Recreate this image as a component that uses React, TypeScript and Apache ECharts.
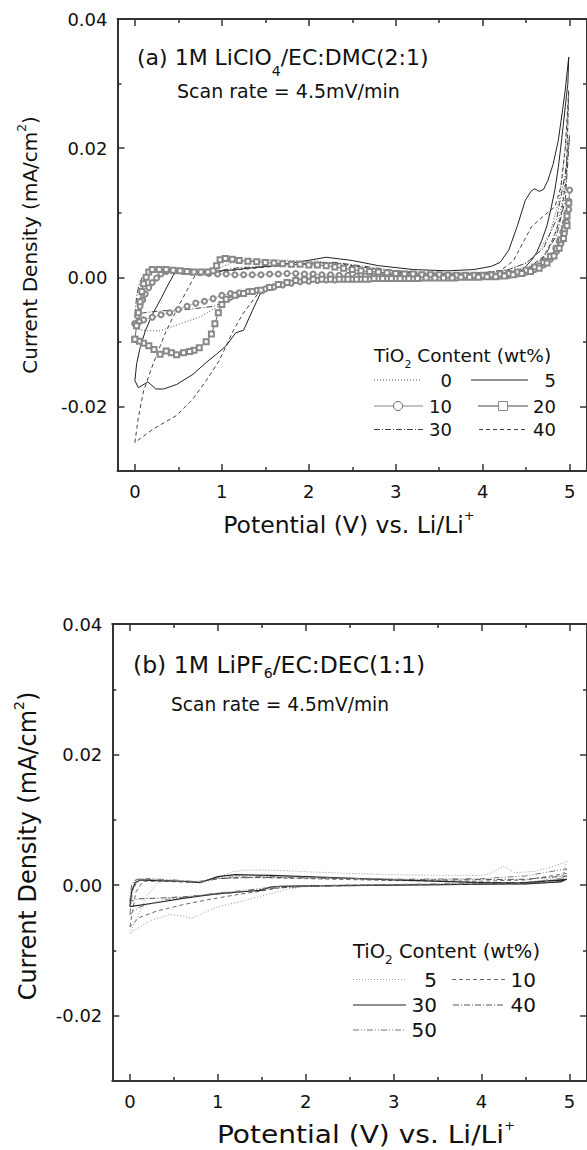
import React, { useEffect, useRef } from "react";
import * as echarts from "echarts";

type P = [number, number];

// ---------- Panel (a): 1M LiClO4/EC:DMC(2:1), TiO2 content (wt%) ----------
const aWt0: P[] = [
  [0.0, -0.008], [0.03, -0.0055], [0.06, -0.003], [0.1, -0.001], [0.15, 0.0003], [0.22, 0.0009], [0.35, 0.0011],
  [0.55, 0.001], [0.75, 0.0009], [0.9, 0.001], [1.0, 0.0016], [1.1, 0.0022], [1.3, 0.0026], [1.5, 0.0027],
  [1.8, 0.0026], [2.1, 0.0025], [2.4, 0.002], [2.7, 0.0014], [3.0, 0.0009], [3.4, 0.0006], [3.8, 0.0006],
  [4.1, 0.0008], [4.3, 0.0012], [4.5, 0.0022], [4.65, 0.004], [4.78, 0.007], [4.88, 0.012], [4.95, 0.02],
  [4.99, 0.028], [4.97, 0.018], [4.92, 0.012], [4.85, 0.0075], [4.75, 0.004], [4.6, 0.0018], [4.4, 0.0007],
  [4.1, 0.0002], [3.6, 0.0], [3.0, -0.0001], [2.5, -0.0002], [2.0, -0.0004], [1.8, -0.0007], [1.6, -0.0013],
  [1.4, -0.002], [1.24, -0.0026], [1.0, -0.0042], [0.74, -0.0062], [0.5, -0.0073], [0.29, -0.0083],
  [0.15, -0.0083], [0.05, -0.0081], [0.0, -0.008],
];
const aWt5: P[] = [
  [0.0, -0.016], [0.02, -0.0134], [0.06, -0.0109], [0.12, -0.0083], [0.2, -0.0058], [0.3, -0.0033],
  [0.38, -0.0012], [0.45, 0.0005], [0.55, 0.0009], [0.7, 0.0008], [0.9, 0.0009], [1.1, 0.0011], [1.3, 0.0014],
  [1.6, 0.0018], [1.9, 0.0024], [2.2, 0.0031], [2.5, 0.0026], [2.8, 0.0018], [3.2, 0.0012], [3.6, 0.001],
  [3.9, 0.0012], [4.1, 0.0017], [4.2, 0.0023], [4.3, 0.0042], [4.4, 0.008], [4.49, 0.0119], [4.56, 0.0134],
  [4.6, 0.0137], [4.65, 0.0133], [4.7, 0.0136], [4.75, 0.015], [4.81, 0.0175], [4.87, 0.0212], [4.92, 0.026],
  [4.95, 0.029], [4.99, 0.0341], [4.98, 0.03], [4.95, 0.0264], [4.91, 0.0215], [4.87, 0.017], [4.83, 0.0135],
  [4.79, 0.0109], [4.74, 0.008], [4.68, 0.0057], [4.62, 0.0038], [4.56, 0.0026], [4.47, 0.0013], [4.37, 0.0005],
  [4.1, 0.0001], [3.6, 0.0], [3.0, -0.0001], [2.5, -0.0003], [2.0, -0.0005], [1.75, -0.0009], [1.56, -0.0018],
  [1.44, -0.0026], [1.35, -0.0052], [1.25, -0.0082], [1.16, -0.0086], [1.05, -0.0106], [0.94, -0.0119],
  [0.82, -0.0132], [0.67, -0.015], [0.48, -0.0166], [0.33, -0.0173], [0.24, -0.0173], [0.15, -0.0162],
  [0.04, -0.0171], [0.0, -0.016],
];
const aWt10: P[] = [
  [0.0, -0.0072], [0.03, -0.006], [0.06, -0.0045], [0.09, -0.0035], [0.12, -0.0026], [0.16, -0.0016],
  [0.2, -0.0008], [0.25, -0.0001], [0.3, 0.0005], [0.36, 0.0009], [0.45, 0.001], [0.55, 0.0009], [0.65, 0.0008],
  [0.75, 0.0007], [0.85, 0.0006], [0.95, 0.0005], [1.05, 0.0005], [1.15, 0.0004], [1.25, 0.0004], [1.35, 0.0004],
  [1.45, 0.0004], [1.55, 0.0005], [1.65, 0.0005], [1.75, 0.0006], [1.85, 0.0006], [1.95, 0.0005], [2.05, 0.0005],
  [2.15, 0.0004], [2.25, 0.0004], [2.35, 0.0003], [2.45, 0.0003], [2.55, 0.0002], [2.65, 0.0002], [2.75, 0.0002],
  [2.85, 0.0001], [2.95, 0.0001], [3.05, 0.0001], [3.15, 0.0001], [3.25, 0.0001], [3.35, 0.0001], [3.45, 0.0001],
  [3.55, 0.0001], [3.65, 0.0001], [3.75, 0.0001], [3.85, 0.0001], [3.95, 0.0001], [4.05, 0.0002], [4.15, 0.0002],
  [4.25, 0.0003], [4.35, 0.0005], [4.45, 0.0008], [4.55, 0.0012], [4.65, 0.0018], [4.72, 0.0025], [4.78, 0.0033],
  [4.84, 0.0045], [4.88, 0.0056], [4.92, 0.007], [4.95, 0.0085], [4.97, 0.01], [4.99, 0.0118], [5.0, 0.0135],
  [4.99, 0.0105], [4.97, 0.0085], [4.94, 0.0068], [4.9, 0.0052], [4.85, 0.004], [4.78, 0.0028], [4.7, 0.0019],
  [4.6, 0.0012], [4.5, 0.0008], [4.4, 0.0005], [4.3, 0.0003], [4.2, 0.0002], [4.1, 0.0001], [4.0, 0.0001],
  [3.9, 0.0], [3.8, 0.0], [3.7, -0.0001], [3.6, -0.0001], [3.5, -0.0001], [3.4, -0.0001], [3.3, -0.0001],
  [3.2, -0.0002], [3.1, -0.0002], [3.0, -0.0002], [2.9, -0.0002], [2.8, -0.0002], [2.7, -0.0003], [2.6, -0.0003],
  [2.5, -0.0003], [2.4, -0.0003], [2.3, -0.0004], [2.2, -0.0004], [2.1, -0.0005], [2.0, -0.0006], [1.9, -0.0007],
  [1.8, -0.0009], [1.7, -0.0012], [1.6, -0.0015], [1.5, -0.0018], [1.4, -0.002], [1.3, -0.0022], [1.2, -0.0024],
  [1.1, -0.0025], [1.0, -0.0028], [0.9, -0.0033], [0.8, -0.0037], [0.7, -0.004], [0.6, -0.0045], [0.5, -0.005],
  [0.4, -0.0055], [0.3, -0.0058], [0.2, -0.0062], [0.1, -0.0066], [0.05, -0.0069], [0.0, -0.0072],
];
const aWt20: P[] = [
  [0.0, -0.0096], [0.02, -0.0075], [0.04, -0.0055], [0.06, -0.0038], [0.08, -0.0022], [0.1, -0.001],
  [0.13, 0.0], [0.16, 0.0008], [0.2, 0.0012], [0.28, 0.0012], [0.36, 0.0012], [0.44, 0.0011], [0.52, 0.001],
  [0.6, 0.0009], [0.68, 0.0008], [0.76, 0.0008], [0.84, 0.0008], [0.9, 0.001], [0.94, 0.0018], [0.98, 0.0027],
  [1.04, 0.0029], [1.12, 0.0028], [1.2, 0.0026], [1.3, 0.0025], [1.4, 0.0024], [1.5, 0.0023], [1.6, 0.0022],
  [1.7, 0.0021], [1.8, 0.002], [1.9, 0.002], [2.0, 0.0019], [2.1, 0.0019], [2.2, 0.0018], [2.3, 0.0016],
  [2.4, 0.0014], [2.5, 0.0012], [2.6, 0.001], [2.7, 0.0009], [2.8, 0.0008], [2.9, 0.0007], [3.0, 0.0006],
  [3.1, 0.0005], [3.2, 0.0005], [3.3, 0.0004], [3.4, 0.0004], [3.5, 0.0004], [3.6, 0.0003], [3.7, 0.0003],
  [3.8, 0.0003], [3.9, 0.0003], [4.0, 0.0003], [4.1, 0.0004], [4.2, 0.0005], [4.3, 0.0006], [4.4, 0.0008],
  [4.5, 0.0011], [4.6, 0.0016], [4.7, 0.0023], [4.78, 0.0032], [4.85, 0.0044], [4.9, 0.0058], [4.94, 0.0075],
  [4.97, 0.0095], [4.99, 0.0115], [4.97, 0.008], [4.93, 0.006], [4.88, 0.0045], [4.82, 0.0033], [4.74, 0.0022],
  [4.65, 0.0014], [4.55, 0.0009], [4.45, 0.0006], [4.35, 0.0004], [4.25, 0.0002], [4.15, 0.0001], [4.05, 0.0001],
  [3.95, 0.0], [3.85, 0.0], [3.75, 0.0], [3.65, -0.0001], [3.55, -0.0001], [3.45, -0.0001], [3.35, -0.0001],
  [3.25, -0.0002], [3.15, -0.0002], [3.05, -0.0002], [2.95, -0.0002], [2.85, -0.0002], [2.75, -0.0002],
  [2.65, -0.0003], [2.55, -0.0003], [2.45, -0.0003], [2.35, -0.0003], [2.25, -0.0003], [2.15, -0.0003],
  [2.05, -0.0003], [1.95, -0.0004], [1.85, -0.0005], [1.75, -0.0008], [1.65, -0.0011], [1.55, -0.0016],
  [1.45, -0.002], [1.35, -0.0022], [1.25, -0.0025], [1.15, -0.0028], [1.05, -0.0034], [1.0, -0.0042],
  [0.96, -0.0055], [0.92, -0.0072], [0.88, -0.0088], [0.82, -0.01], [0.74, -0.0109], [0.68, -0.0113],
  [0.63, -0.0115], [0.56, -0.0117], [0.48, -0.012], [0.42, -0.0117], [0.36, -0.0114], [0.29, -0.0119],
  [0.22, -0.0112], [0.16, -0.0106], [0.1, -0.0102], [0.05, -0.0099], [0.0, -0.0096],
];
const aWt30: P[] = [
  [0.0, -0.0058], [0.02, -0.003], [0.05, -0.001], [0.1, 0.0004], [0.2, 0.001], [0.5, 0.001], [0.9, 0.0009],
  [1.2, 0.0015], [1.6, 0.0017], [2.0, 0.0022], [2.3, 0.0023], [2.7, 0.0016], [3.0, 0.001], [3.5, 0.0006],
  [4.0, 0.0007], [4.3, 0.0012], [4.5, 0.0022], [4.7, 0.0045], [4.85, 0.009], [4.95, 0.016], [5.0, 0.022],
  [4.95, 0.012], [4.85, 0.0065], [4.7, 0.003], [4.5, 0.0012], [4.2, 0.0004], [3.5, 0.0001], [3.0, 0.0],
  [2.5, -0.0002], [2.0, -0.0004], [1.8, -0.0006], [1.6, -0.001], [1.4, -0.002], [1.2, -0.003], [0.9, -0.0045],
  [0.6, -0.005], [0.3, -0.0052], [0.1, -0.0055], [0.0, -0.0058],
];
const aWt40: P[] = [
  [0.0, -0.0256], [0.04, -0.0217], [0.1, -0.0176], [0.21, -0.0134], [0.36, -0.0083], [0.5, -0.0045],
  [0.6, -0.002], [0.7, 0.0005], [0.85, 0.0008], [1.0, 0.0009], [1.3, 0.0013], [1.6, 0.0017], [2.0, 0.0021],
  [2.3, 0.0022], [2.7, 0.0014], [3.0, 0.0008], [3.5, 0.0005], [4.0, 0.0006], [4.2, 0.001], [4.35, 0.0025],
  [4.45, 0.005], [4.56, 0.0078], [4.7, 0.0095], [4.83, 0.0109], [4.9, 0.014], [4.95, 0.02], [4.99, 0.029],
  [4.96, 0.015], [4.9, 0.0095], [4.82, 0.0062], [4.7, 0.0032], [4.5, 0.0012], [4.2, 0.0003], [3.5, 0.0],
  [3.0, -0.0002], [2.5, -0.0003], [2.0, -0.0005], [1.8, -0.0008], [1.6, -0.0015], [1.44, -0.0021],
  [1.24, -0.0057], [1.13, -0.0083], [0.97, -0.0129], [0.82, -0.016], [0.67, -0.0188], [0.48, -0.0214],
  [0.21, -0.0235], [0.0, -0.0256],
];

// ---------- Panel (b): 1M LiPF6/EC:DEC(1:1) ----------
const bWt5: P[] = [
  [0.0, -0.0074], [0.05, -0.0058], [0.1, -0.0045], [0.2, -0.0015], [0.32, 0.0004], [0.45, 0.0007],
  [0.65, 0.0006], [0.85, 0.0006], [1.0, 0.0012], [1.15, 0.002], [1.3, 0.0023], [1.5, 0.0023], [1.8, 0.0022],
  [2.1, 0.002], [2.5, 0.0018], [3.0, 0.0016], [3.5, 0.0015], [4.0, 0.0015], [4.12, 0.0019], [4.25, 0.0029],
  [4.38, 0.0019], [4.6, 0.0021], [4.8, 0.0028], [4.97, 0.0036], [4.92, 0.0016], [4.7, 0.0007], [4.4, 0.0004],
  [4.0, 0.0002], [3.0, 0.0001], [2.0, -0.0002], [1.8, -0.0006], [1.6, -0.0013], [1.4, -0.002], [1.2, -0.0027],
  [1.0, -0.0033], [0.85, -0.0042], [0.7, -0.0051], [0.6, -0.0047], [0.45, -0.0045], [0.24, -0.0054],
  [0.1, -0.0065], [0.0, -0.0074],
];
const bWt10: P[] = [
  [0.0, -0.0064], [0.03, -0.004], [0.07, -0.001], [0.15, 0.0006], [0.4, 0.0006], [0.7, 0.0004], [1.0, 0.001],
  [1.3, 0.0012], [2.0, 0.001], [3.0, 0.0007], [4.0, 0.0006], [4.5, 0.0008], [4.97, 0.0018], [4.9, 0.0008],
  [4.5, 0.0003], [3.5, 0.0001], [2.5, 0.0], [2.0, -0.0001], [1.7, -0.0004], [1.5, -0.0009], [1.2, -0.0015],
  [0.9, -0.0022], [0.6, -0.003], [0.3, -0.004], [0.1, -0.005], [0.0, -0.0064],
];
const bWt30: P[] = [
  [0.0, -0.0033], [0.02, -0.001], [0.06, 0.0004], [0.12, 0.0008], [0.3, 0.0007], [0.6, 0.0006], [0.8, 0.0004],
  [1.0, 0.0013], [1.2, 0.0016], [1.6, 0.0015], [2.0, 0.0013], [3.0, 0.0008], [4.0, 0.0004], [4.5, 0.0004],
  [4.97, 0.0009], [4.9, 0.0005], [4.5, 0.0002], [3.0, 0.0], [2.0, -0.0001], [1.7, -0.0002], [1.6, -0.0003],
  [1.49, -0.0008], [1.0, -0.0013], [0.62, -0.002], [0.3, -0.0027], [0.0, -0.0033],
];
const bWt40: P[] = [
  [0.0, -0.0025], [0.02, 0.0], [0.05, 0.0007], [0.12, 0.001], [0.4, 0.0007], [0.8, 0.0004], [1.0, 0.001],
  [1.5, 0.0012], [2.5, 0.001], [3.5, 0.0008], [4.5, 0.0009], [4.97, 0.0014], [4.9, 0.0006], [4.5, 0.0002],
  [3.0, 0.0], [2.0, -0.0002], [1.6, -0.0005], [1.2, -0.0011], [0.9, -0.0015], [0.6, -0.0018], [0.3, -0.002],
  [0.1, -0.0021], [0.0, -0.0025],
];
const bWt50: P[] = [
  [0.0, -0.0045], [0.03, -0.001], [0.08, 0.0006], [0.2, 0.001], [0.5, 0.0008], [0.8, 0.0005], [1.0, 0.0011],
  [1.3, 0.0014], [2.0, 0.0012], [3.0, 0.0009], [4.0, 0.001], [4.5, 0.0014], [4.97, 0.0025], [4.9, 0.001],
  [4.5, 0.0004], [3.0, 0.0001], [2.0, -0.0001], [1.7, -0.0002], [1.3, -0.0008], [1.0, -0.0012], [0.7, -0.0017],
  [0.4, -0.0022], [0.1, -0.0034], [0.0, -0.0045],
];

// ---------- axes / labels ----------
const xMajor = [0, 1, 2, 3, 4, 5];
const xMinor = [0.5, 1.5, 2.5, 3.5, 4.5];
const yMajor = [-0.02, 0, 0.02, 0.04];
const yMinor = [-0.01, 0.01, 0.03];
const legendA = ["0", "5", "10", "20", "30", "40"];
const legendB = ["5", "10", "30", "40", "50"];

const FONT = "'DejaVu Sans', sans-serif";
const AXIS = "#333";
const TXT = "#111";

const DOT = [1, 2];
const DASH = [4, 3];
const DASHDOT = [6, 2, 1, 2];
const DASHDOTDOT = [6, 2, 1, 2, 1, 2];

function axesFor(gi: number) {
  const lineStyle = { color: AXIS, width: 2 };
  const tickStyle = { color: AXIS, width: 1.5 };
  const base = { gridIndex: gi, type: "value", splitLine: { show: false }, silent: true };
  const mk = (dim: "x" | "y", position: string, values: number[], len: number, line: boolean, label: boolean) => ({
    ...base,
    min: dim === "x" ? -0.2 : -0.03,
    max: dim === "x" ? 5.2 : 0.04,
    position,
    axisLine: { show: line, onZero: false, lineStyle },
    axisTick: { show: true, inside: true, length: len, customValues: values, lineStyle: tickStyle },
    axisLabel: label
      ? {
          show: true,
          customValues: values,
          margin: dim === "x" ? 11 : 10,
          fontSize: 18,
          fontFamily: FONT,
          color: TXT,
          formatter: (v: number) => (dim === "x" ? String(Math.round(v)) : v.toFixed(2)),
        }
      : { show: false },
  });
  const x = [
    mk("x", "bottom", xMajor, 7, true, true),
    mk("x", "bottom", xMinor, 4, false, false),
    mk("x", "top", xMajor, 7, true, false),
    mk("x", "top", xMinor, 4, false, false),
  ];
  const y = [
    mk("y", "left", yMajor, 7, true, true),
    mk("y", "left", yMinor, 4, false, false),
    mk("y", "right", yMajor, 7, true, false),
    mk("y", "right", yMinor, 4, false, false),
  ];
  return { x, y };
}

function line(data: P[], ai: number, color: string, dash: any, width = 1, z = 2) {
  return {
    type: "line",
    data,
    xAxisIndex: ai,
    yAxisIndex: ai,
    showSymbol: false,
    symbol: "none",
    silent: true,
    z,
    lineStyle: { color, width, type: dash },
  };
}
function markerLine(data: P[], ai: number, symbol: string, color: string, lineColor: string) {
  return {
    type: "line",
    data,
    xAxisIndex: ai,
    yAxisIndex: ai,
    showSymbol: true,
    symbol,
    symbolSize: 5,
    silent: true,
    z: 3,
    itemStyle: { color, borderWidth: 0.8 },
    lineStyle: { color: lineColor, width: 1 },
  };
}

function text(x: number, y: number, t: string, fontSize: number, extra: any = {}) {
  const align = extra.align || "left";
  return {
    type: "text",
    x,
    y,
    silent: true,
    rotation: extra.rotation || 0,
    scaleX: extra.scaleX || 1,
    scaleY: extra.scaleY || 1,
    z: 10,
    style: {
      text: t,
      fontSize,
      fontFamily: FONT,
      fill: TXT,
      align,
      textAlign: align,
      verticalAlign: "middle",
      textVerticalAlign: "middle",
      rich: extra.rich,
    },
  };
}

function subRich(base: number, sub: number, offset: number) {
  const L = 2 * offset + sub;
  return {
    b: { fontSize: base, fontFamily: FONT, fill: TXT, lineHeight: L },
    s: { fontSize: sub, fontFamily: FONT, fill: TXT, lineHeight: sub, verticalAlign: "bottom" },
    u: { fontSize: sub, fontFamily: FONT, fill: TXT, lineHeight: sub, verticalAlign: "top" },
  };
}

function legendLine(x1: number, x2: number, y: number, color: string, dash: any, width = 1) {
  return {
    type: "line",
    silent: true,
    z: 10,
    shape: { x1, y1: y, x2, y2: y },
    style: { stroke: color, lineWidth: width, lineDash: dash },
  };
}

export default function App() {
  const ref = useRef<HTMLDivElement>(null);
  useEffect(() => {
    if (!ref.current) return;
    const chart = echarts.init(ref.current, undefined, { renderer: "svg" });
    const A = axesFor(0);
    const B = axesFor(1);

    const graphics: any[] = [];
    // panel (a) annotations
    graphics.push(text(137, 57, "{b|(a) 1M LiClO}{s|4}{b|/EC:DMC(2:1)}", 22, { rich: subRich(22, 14, 14) }));
    graphics.push(text(177, 91, "Scan rate = 4.5mV/min", 19));
    graphics.push(text(349, 525, "{b|Potential (V) vs. Li/Li}{u|+}", 23.5, { align: "center", rich: subRich(23.5, 13, 10) }));
    graphics.push(
      text(30, 245, "{b|Current Density (mA/cm}{u|2}{b|)}", 20, { align: "center", rotation: Math.PI / 2, rich: subRich(20, 12, 8) })
    );
    // panel (a) legend
    graphics.push(text(374, 355, "{b|TiO}{s|2}{b| Content (wt%)}", 18.5, { rich: subRich(18.5, 11, 9) }));
    const rowsA = [380, 406, 429.5];
    graphics.push(legendLine(374, 421, rowsA[0], "#555", DOT));
    graphics.push(text(452, rowsA[0], legendA[0], 18, { align: "right" }));
    graphics.push(legendLine(471, 528, rowsA[0], "#222", null));
    graphics.push(text(556, rowsA[0], legendA[1], 18, { align: "right" }));
    graphics.push(legendLine(374, 423, rowsA[1], "#888", null));
    graphics.push({ type: "circle", silent: true, z: 11, shape: { cx: 398, cy: rowsA[1], r: 4.5 }, style: { fill: "#fff", stroke: "#666", lineWidth: 1 } });
    graphics.push(text(452, rowsA[1], legendA[2], 18, { align: "right" }));
    graphics.push(legendLine(478, 528, rowsA[1], "#444", null));
    graphics.push({ type: "rect", silent: true, z: 11, shape: { x: 498.5, y: rowsA[1] - 4.5, width: 9, height: 9 }, style: { fill: "#fff", stroke: "#888", lineWidth: 1 } });
    graphics.push(text(556, rowsA[1], legendA[3], 18, { align: "right" }));
    graphics.push(legendLine(374, 423, rowsA[2], "#444", DASHDOT));
    graphics.push(text(452, rowsA[2], legendA[4], 18, { align: "right" }));
    graphics.push(legendLine(479, 527, rowsA[2], "#444", DASH));
    graphics.push(text(556, rowsA[2], legendA[5], 18, { align: "right" }));

    // panel (b) annotations
    graphics.push(text(133, 665, "{b|(b) 1M LiPF}{s|6}{b|/EC:DEC(1:1)}", 23.5, { rich: subRich(23.5, 14, 8) }));
    graphics.push(text(171, 704, "Scan rate = 4.5mV/min", 18.6));
    graphics.push(
      text(366, 1134, "{b|Potential (V) vs. Li/Li}{u|+}", 25.5, { align: "center", scaleX: 1.1, rich: subRich(25.5, 12, 8) })
    );
    graphics.push(
      text(28, 846, "{b|Current Density (mA/cm}{u|2}{b|)}", 24, { align: "center", rotation: Math.PI / 2, rich: subRich(24, 14, 9) })
    );
    // panel (b) legend
    graphics.push(text(353, 951, "{b|TiO}{s|2}{b| Content (wt%)}", 19.5, { rich: subRich(19.5, 12, 9) }));
    const rowsB = [979.5, 1005, 1030];
    graphics.push(legendLine(353, 405, rowsB[0], "#999", DOT));
    graphics.push(text(437, rowsB[0], legendB[0], 20, { align: "right" }));
    graphics.push(legendLine(452, 505, rowsB[0], "#666", DASH));
    graphics.push(text(536, rowsB[0], legendB[1], 20, { align: "right" }));
    graphics.push(legendLine(353, 406, rowsB[1], "#222", null, 1.2));
    graphics.push(text(437, rowsB[1], legendB[2], 20, { align: "right" }));
    graphics.push(legendLine(453, 505, rowsB[1], "#555", DASHDOT));
    graphics.push(text(536, rowsB[1], legendB[3], 20, { align: "right" }));
    graphics.push(legendLine(353, 404, rowsB[2], "#777", DASHDOTDOT));
    graphics.push(text(437, rowsB[2], legendB[4], 20, { align: "right" }));

    chart.setOption({
      animation: false,
      backgroundColor: "#fff",
      grid: [
        { left: 117.5, top: 19, width: 471.5, height: 452 },
        { left: 112.3, top: 624, width: 476.5, height: 457 },
      ],
      xAxis: [...A.x, ...B.x],
      yAxis: [...A.y, ...B.y],
      series: [
        line(aWt0, 0, "#555", DOT),
        line(aWt5, 0, "#222", "solid"),
        markerLine(aWt10, 0, "emptyCircle", "#888", "#aaa"),
        markerLine(aWt20, 0, "emptyRect", "#888", "#666"),
        line(aWt30, 0, "#444", DASHDOT),
        line(aWt40, 0, "#444", DASH),
        line(bWt5, 4, "#999", DOT),
        line(bWt10, 4, "#666", DASH),
        line(bWt30, 4, "#222", "solid", 1.2),
        line(bWt40, 4, "#555", DASHDOT),
        line(bWt50, 4, "#777", DASHDOTDOT),
      ],
      graphic: { elements: graphics },
    });
    return () => chart.dispose();
  }, []);
  return <div ref={ref} style={{ position: "absolute", left: 0, top: 0, width: 587, height: 1150 }} />;
}
